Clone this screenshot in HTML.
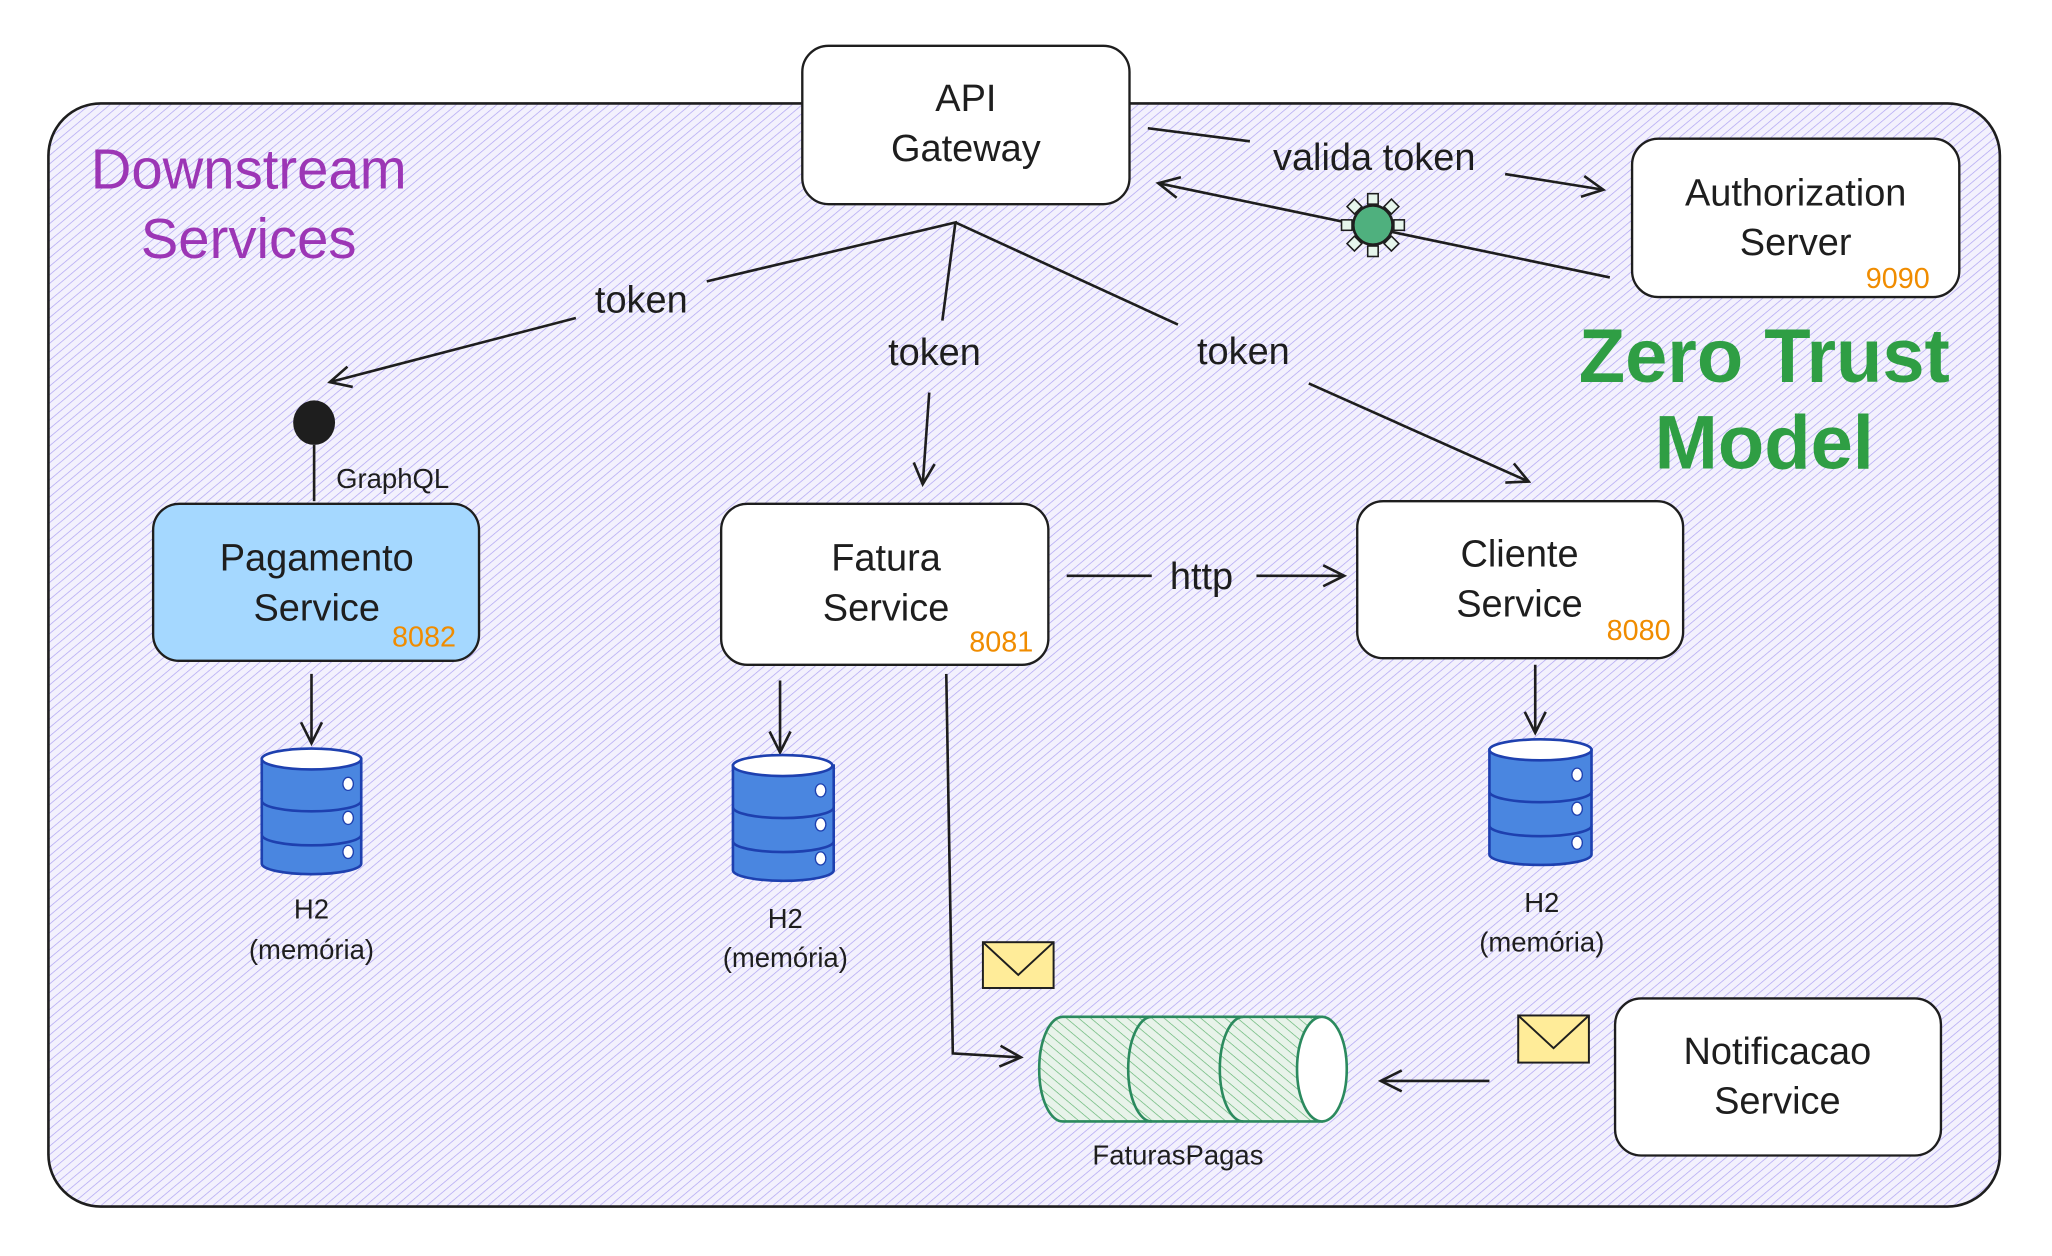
<!DOCTYPE html>
<html><head><meta charset="utf-8"><style>
html,body{margin:0;padding:0;background:#fff}
svg{display:block}
text{font-family:"Liberation Sans",sans-serif;fill:#1e1e1e}
</style></head><body>
<svg width="2052" height="1256" viewBox="0 0 1560 955" preserveAspectRatio="none" xmlns="http://www.w3.org/2000/svg">
<defs>
<pattern id="h" width="5" height="5" patternUnits="userSpaceOnUse" patternTransform="rotate(-40)">
<rect width="5" height="5" fill="#f3f1fd"/>
<line x1="0" y1="0" x2="5" y2="0" stroke="#b0a5f2" stroke-width="1.1"/>
</pattern>
<pattern id="g" width="6" height="6" patternUnits="userSpaceOnUse" patternTransform="rotate(40)">
<rect width="6" height="6" fill="#e8f3ea"/>
<line x1="0" y1="0" x2="6" y2="0" stroke="#5fb36f" stroke-width="1"/>
</pattern>
<marker id="a" markerWidth="20" markerHeight="20" refX="18" refY="10" orient="auto" markerUnits="userSpaceOnUse">
<path d="M2,2 L18,10 L2,18" fill="none" stroke="#1e1e1e" stroke-width="2"/>
</marker>
</defs>
<g transform="scale(0.995)">
<rect x="37" y="79" width="1491" height="843" rx="40" fill="url(#h)" stroke="#1e1e1e" stroke-width="2"/>

<g stroke="#1e1e1e" stroke-width="1.8" fill="#fff">
<rect x="613" y="35" width="250" height="121" rx="20"/>
<rect x="1247" y="106" width="250" height="121" rx="20"/>
<rect x="117" y="385" width="249" height="120" rx="20" fill="#a5d8ff"/>
<rect x="551" y="385" width="250" height="123" rx="20"/>
<rect x="1037" y="383" width="249" height="120" rx="20"/>
<rect x="1234" y="763" width="249" height="120" rx="20"/>
</g>

<g font-size="29" text-anchor="middle">
<text x="738" y="85">API</text><text x="738" y="123">Gateway</text>
<text x="1372" y="157">Authorization</text><text x="1372" y="195">Server</text>
<text x="242" y="436">Pagamento</text><text x="242" y="474">Service</text>
<text x="677" y="436">Fatura</text><text x="677" y="474">Service</text>
<text x="1161" y="433">Cliente</text><text x="1161" y="471">Service</text>
<text x="1358" y="813">Notificacao</text><text x="1358" y="851">Service</text>
</g>
<g font-size="22" text-anchor="middle">
<text x="1450" y="220" style="fill:#f08c00">9090</text>
<text x="324" y="494" style="fill:#f08c00">8082</text>
<text x="765" y="498" style="fill:#f08c00">8081</text>
<text x="1252" y="489" style="fill:#f08c00">8080</text>
</g>
<g font-size="43" text-anchor="middle">
<text x="190" y="144" style="fill:#9c36b5">Downstream</text>
<text x="190" y="197" style="fill:#9c36b5">Services</text>
</g>
<g font-size="58" text-anchor="middle" font-weight="bold">
<text x="1348" y="292" style="fill:#2f9e44">Zero Trust</text>
<text x="1348" y="358" style="fill:#2f9e44">Model</text>
</g>

<g stroke="#1e1e1e" stroke-width="2" fill="none">
<line x1="877" y1="98" x2="955" y2="108"/>
<line x1="1150" y1="133" x2="1225" y2="145" marker-end="url(#a)"/>
<line x1="1230" y1="212" x2="885" y2="140" marker-end="url(#a)"/>
<polyline points="540,215 730,170 720,245"/>
<line x1="730" y1="170" x2="900" y2="248"/>
<line x1="440" y1="243" x2="252" y2="292" marker-end="url(#a)"/>
<line x1="710" y1="300" x2="705" y2="370" marker-end="url(#a)"/>
<line x1="1000" y1="293" x2="1168" y2="368" marker-end="url(#a)"/>
<line x1="240" y1="340" x2="240" y2="383"/>
<line x1="815" y1="440" x2="880" y2="440"/>
<line x1="960" y1="440" x2="1027" y2="440" marker-end="url(#a)"/>
<line x1="238" y1="515" x2="238" y2="568" marker-end="url(#a)"/>
<line x1="596" y1="520" x2="596" y2="575" marker-end="url(#a)"/>
<line x1="1173" y1="508" x2="1173" y2="560" marker-end="url(#a)"/>
<polyline points="723,515 728,805 780,808" marker-end="url(#a)"/>
<line x1="1138" y1="826" x2="1055" y2="826" marker-end="url(#a)"/>
</g>
<g font-size="29" text-anchor="middle">
<text x="1050" y="130">valida token</text>
<text x="490" y="239">token</text>
<text x="714" y="279">token</text>
<text x="950" y="278">token</text>
<text x="918" y="450">http</text>
</g>
<text x="300" y="373" font-size="21" text-anchor="middle">GraphQL</text>
<ellipse cx="240" cy="323" rx="16" ry="17" fill="#1e1e1e"/>

<g stroke="#1e1e1e" stroke-width="1.2" fill="#e6f6ec">
<g transform="translate(1049,172)">
<rect x="-4" y="-24" width="8" height="8"/><rect x="-4" y="16" width="8" height="8"/>
<rect x="-24" y="-4" width="8" height="8"/><rect x="16" y="-4" width="8" height="8"/>
<rect x="-4" y="-24" width="8" height="8" transform="rotate(45)"/><rect x="-4" y="-24" width="8" height="8" transform="rotate(135)"/>
<rect x="-4" y="-24" width="8" height="8" transform="rotate(225)"/><rect x="-4" y="-24" width="8" height="8" transform="rotate(315)"/>
<circle r="15" fill="#4fb07e" stroke-width="2"/>
</g></g>

<g stroke="#1e40af" stroke-width="2" fill="#4a86e0">
<g transform="translate(200,572)">
<path d="M0,8 V88 A38,8 0 0 0 76,88 V8 Z"/><ellipse cx="38" cy="8" rx="38" ry="8" fill="#fff"/>
<path d="M0,40 A38,8 0 0 0 76,40 M0,66 A38,8 0 0 0 76,66" fill="none"/>
<g fill="#fff" stroke-width="1"><ellipse cx="66" cy="27" rx="4" ry="5"/><ellipse cx="66" cy="53" rx="4" ry="5"/><ellipse cx="66" cy="79" rx="4" ry="5"/></g>
</g>
<g transform="translate(560,577)">
<path d="M0,8 V88 A38,8 0 0 0 77,88 V8 Z"/><ellipse cx="38" cy="8" rx="38" ry="8" fill="#fff"/>
<path d="M0,40 A38,8 0 0 0 77,40 M0,66 A38,8 0 0 0 77,66" fill="none"/>
<g fill="#fff" stroke-width="1"><ellipse cx="67" cy="27" rx="4" ry="5"/><ellipse cx="67" cy="53" rx="4" ry="5"/><ellipse cx="67" cy="79" rx="4" ry="5"/></g>
</g>
<g transform="translate(1138,565)">
<path d="M0,8 V88 A39,8 0 0 0 78,88 V8 Z"/><ellipse cx="39" cy="8" rx="39" ry="8" fill="#fff"/>
<path d="M0,40 A39,8 0 0 0 78,40 M0,66 A39,8 0 0 0 78,66" fill="none"/>
<g fill="#fff" stroke-width="1"><ellipse cx="67" cy="27" rx="4" ry="5"/><ellipse cx="67" cy="53" rx="4" ry="5"/><ellipse cx="67" cy="79" rx="4" ry="5"/></g>
</g>
</g>
<g font-size="21" text-anchor="middle">
<text x="238" y="702">H2</text><text x="238" y="733">(memória)</text>
<text x="600" y="709">H2</text><text x="600" y="739">(memória)</text>
<text x="1178" y="697">H2</text><text x="1178" y="727">(memória)</text>
<text x="900" y="890">FaturasPagas</text>
</g>

<g stroke="#1e1e1e" stroke-width="1.5" fill="#ffec99">
<rect x="751" y="720" width="54" height="35"/><polyline points="751,720 778,745 805,720" fill="none"/>
<rect x="1160" y="776" width="54" height="36"/><polyline points="1160,776 1187,801 1214,776" fill="none"/>
</g>

<g stroke="#2b8a5e" stroke-width="2">
<path d="M812,777 H1010 V857 H812 A18,40 0 0 1 812,777 Z" fill="url(#g)"/>
<path d="M880,777 A18,40 0 0 0 880,857 M950,777 A18,40 0 0 0 950,857" fill="none"/>
<ellipse cx="1010" cy="817" rx="19" ry="40" fill="#fff"/>
</g>
</g>
</svg>
</body></html>
